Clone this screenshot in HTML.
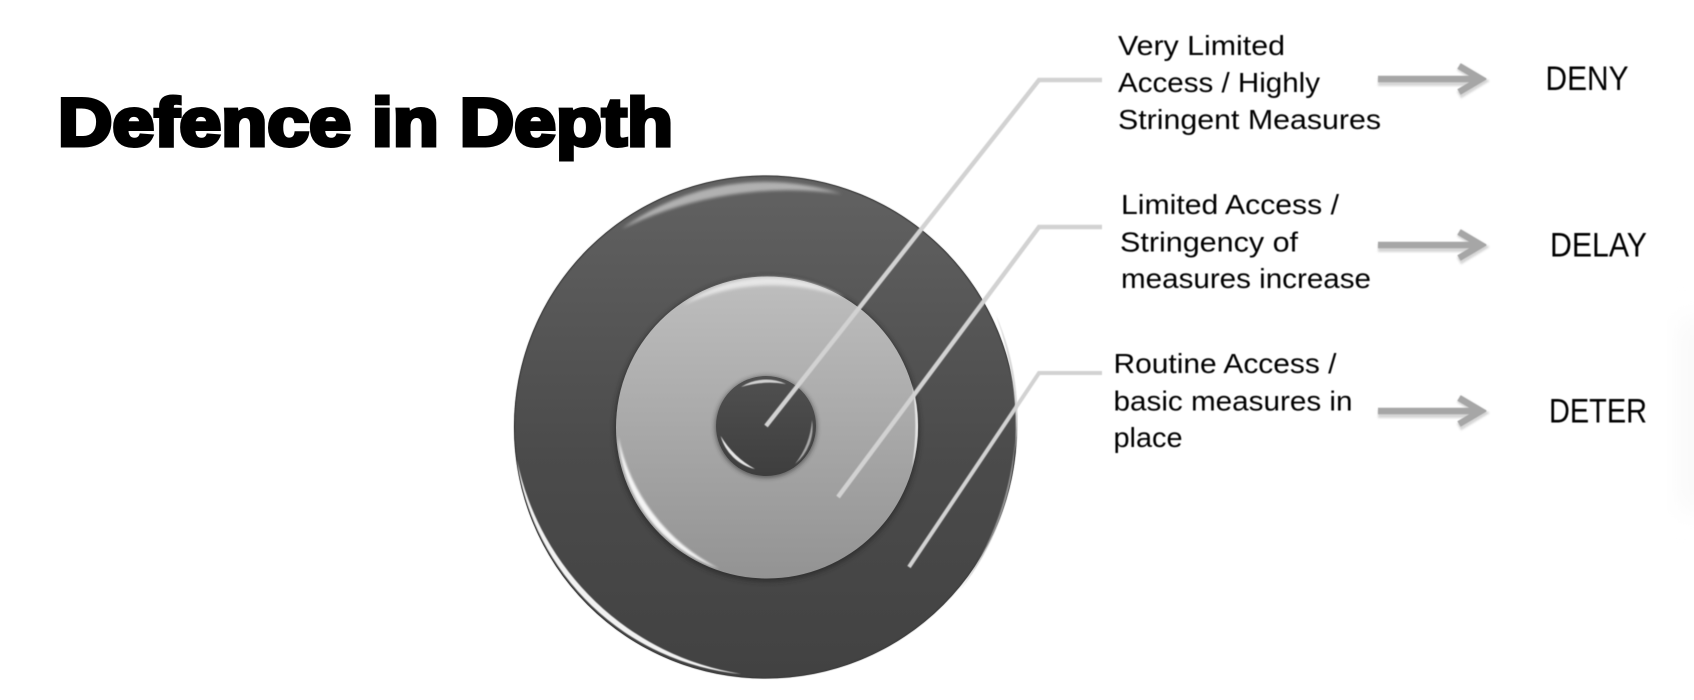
<!DOCTYPE html>
<html>
<head>
<meta charset="utf-8">
<style>
html,body{margin:0;padding:0;background:#fff;width:1694px;height:700px;overflow:hidden}
svg{display:block}
.t{font-family:"Liberation Sans",sans-serif;font-size:28px;fill:#050505}
.k{font-family:"Liberation Sans",sans-serif;font-size:34.5px;fill:#050505}
.ttl{font-family:"Liberation Sans",sans-serif;font-weight:bold;font-size:68px;fill:#000;stroke:#000;stroke-width:4px;stroke-linejoin:miter}
</style>
</head>
<body>
<svg width="1694" height="700" viewBox="0 0 1694 700" xmlns="http://www.w3.org/2000/svg">
<defs>
<linearGradient id="o" x1="0" y1="0" x2="0" y2="1"><stop offset="0" stop-color="#626262"/><stop offset="0.55" stop-color="#4b4b4b"/><stop offset="1" stop-color="#424242"/></linearGradient>
<linearGradient id="m" x1="0" y1="0" x2="0" y2="1"><stop offset="0" stop-color="#bebebe"/><stop offset="1" stop-color="#939393"/></linearGradient>
<linearGradient id="i" x1="0" y1="0" x2="0" y2="1"><stop offset="0" stop-color="#505050"/><stop offset="1" stop-color="#3e3e3e"/></linearGradient>
<linearGradient id="edge" x1="0" y1="0" x2="1" y2="0"><stop offset="0" stop-color="#fff"/><stop offset="1" stop-color="#f1f1f1"/></linearGradient>
<filter id="b15" x="-20%" y="-20%" width="140%" height="140%"><feGaussianBlur stdDeviation="1.6"/></filter>
<filter id="b1" x="-20%" y="-20%" width="140%" height="140%"><feGaussianBlur stdDeviation="1"/></filter>
<filter id="b2" x="-20%" y="-20%" width="140%" height="140%"><feGaussianBlur stdDeviation="2.5"/></filter>
<filter id="b05" x="-5%" y="-5%" width="110%" height="110%"><feGaussianBlur stdDeviation="0.5"/></filter>
<filter id="b3" x="-30%" y="-30%" width="160%" height="160%"><feGaussianBlur stdDeviation="14"/></filter>
</defs>

<rect x="1676" y="320" width="30" height="190" fill="url(#edge)" filter="url(#b3)"/>

<text class="ttl" x="58" y="145.5" textLength="615" lengthAdjust="spacingAndGlyphs">Defence in Depth</text>

<!-- outer disc -->
<circle cx="765.5" cy="427" r="251.5" fill="url(#o)"/>
<circle cx="765.5" cy="427" r="251" fill="none" stroke="#3c3c3c" stroke-width="1" filter="url(#b05)"/>
<path d="M621.5 229 A245 245 0 0 1 842 194 A379 379 0 0 0 621.5 229Z" fill="#c0c0c0" opacity=".85" filter="url(#b15)"/>
<path d="M517 460 A250 250 0 0 0 741 674 A273 273 0 0 1 517 460Z" fill="#f2f2f2" filter="url(#b05)"/>
<path d="M996 315 A255 255 0 0 1 1015 453 A340 340 0 0 0 996 315Z" fill="#d8d8d8" filter="url(#b05)"/>
<path d="M1015 440 A250 250 0 0 1 960 590 A300 300 0 0 0 1015 440Z" fill="#b4b4b4" opacity=".7" filter="url(#b05)"/>

<!-- middle disc -->
<circle cx="767" cy="429" r="153" fill="#222" opacity=".55" filter="url(#b2)"/>
<circle cx="767" cy="427.5" r="151" fill="url(#m)"/>
<path d="M683 305 A148 148 0 0 1 845 298 A212 212 0 0 0 683 305Z" fill="#e6e6e6" filter="url(#b15)"/>
<path d="M618.2 436.1 A149 149 0 0 0 718.8 568.5 A191 191 0 0 1 618.2 436.1Z" fill="#f4f4f4" filter="url(#b1)"/>
<path d="M912 384 A150 150 0 0 1 912 467 A260 260 0 0 0 912 384Z" fill="#e4e4e4" filter="url(#b05)"/>

<!-- inner disc -->
<circle cx="766" cy="427" r="51" fill="#222" opacity=".55" filter="url(#b2)"/>
<circle cx="766" cy="426" r="50" fill="url(#i)"/>
<path d="M741 387 A46 46 0 0 1 786 384 A100 100 0 0 0 741 387Z" fill="#d0d0d0" filter="url(#b05)"/>
<path d="M720.7 436 A46 46 0 0 0 755 469 A92 92 0 0 1 720.7 436Z" fill="#e6e6e6" filter="url(#b05)"/>
<path d="M812 420 A47 47 0 0 1 795 464 A80 80 0 0 0 812 420Z" fill="#a8a8a8" filter="url(#b05)"/>

<!-- leader lines -->
<g fill="none" stroke="#d2d2d2" stroke-width="4.4" filter="url(#b05)">
<polyline points="766,426 1039,80 1102,80"/>
<polyline points="838,497 1039,227 1102,227"/>
<polyline points="909,567 1039,373 1102,373" stroke-width="4"/>
</g>

<!-- labels -->
<g filter="url(#b05)">
<text class="t" x="1118" y="55" textLength="167" lengthAdjust="spacingAndGlyphs">Very Limited</text>
<text class="t" x="1118" y="92" textLength="202" lengthAdjust="spacingAndGlyphs">Access / Highly</text>
<text class="t" x="1118" y="129" textLength="263" lengthAdjust="spacingAndGlyphs">Stringent Measures</text>
<text class="t" x="1121" y="214" textLength="218" lengthAdjust="spacingAndGlyphs">Limited Access /</text>
<text class="t" x="1120" y="251.5" textLength="178" lengthAdjust="spacingAndGlyphs">Stringency of</text>
<text class="t" x="1121" y="288" textLength="250" lengthAdjust="spacingAndGlyphs">measures increase</text>
<text class="t" x="1113.5" y="373" textLength="223" lengthAdjust="spacingAndGlyphs">Routine Access /</text>
<text class="t" x="1113.5" y="410.5" textLength="239" lengthAdjust="spacingAndGlyphs">basic measures in</text>
<text class="t" x="1113.5" y="447" textLength="69" lengthAdjust="spacingAndGlyphs">place</text>
<text class="k" x="1545.5" y="90" textLength="83" lengthAdjust="spacingAndGlyphs">DENY</text>
<text class="k" x="1550" y="256.5" textLength="97" lengthAdjust="spacingAndGlyphs">DELAY</text>
<text class="k" x="1549" y="422.5" textLength="98" lengthAdjust="spacingAndGlyphs">DETER</text>
</g>

<!-- arrows -->
<g fill="none" stroke="#c4c4c4" stroke-width="8" opacity=".7" filter="url(#b1)">
<path d="M1378 82H1480M1459 67L1482 81L1459 95"/>
<path d="M1378 248H1480M1459 233L1482 247L1459 261"/>
<path d="M1378 414H1480M1459 399L1482 413L1459 427"/>
</g>
<g fill="none" stroke="#a6a6a6" stroke-width="6.5" filter="url(#b05)">
<path d="M1378 79H1480M1459 66L1481 79L1459 92"/>
<path d="M1378 245H1480M1459 232L1481 245L1459 258"/>
<path d="M1378 411H1480M1459 398L1481 411L1459 424"/>
</g>
</svg>
</body>
</html>
